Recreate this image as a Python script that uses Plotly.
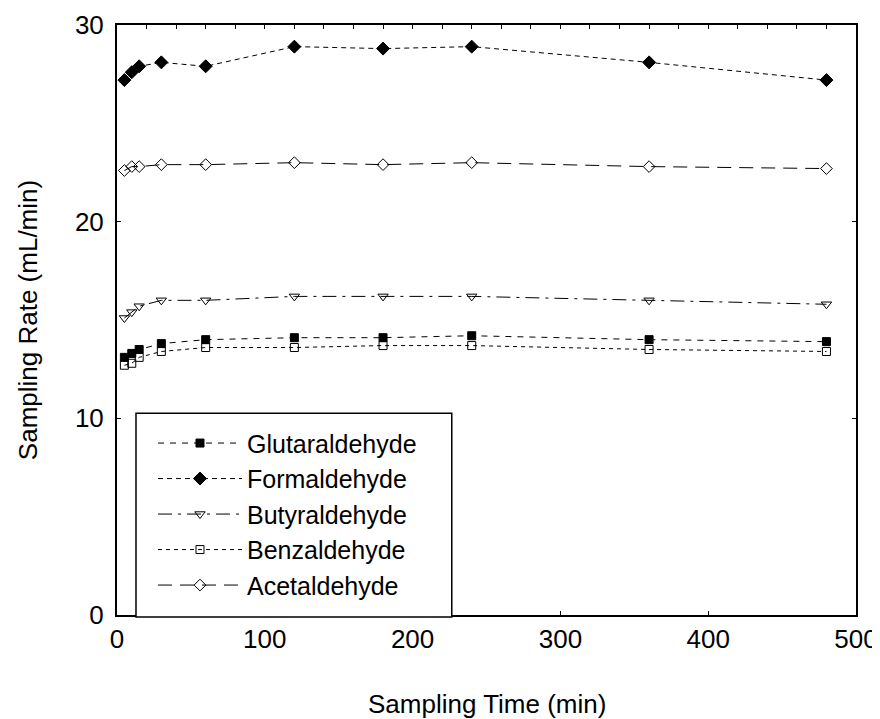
import plotly.graph_objects as go

time_min = [5, 10, 15, 30, 60, 120, 180, 240, 360, 480]
glutaraldehyde = [13.1, 13.3, 13.5, 13.8, 14.0, 14.1, 14.1, 14.2, 14.0, 13.9]
formaldehyde = [27.2, 27.6, 27.9, 28.1, 27.9, 28.9, 28.8, 28.9, 28.1, 27.2]
butyraldehyde = [15.1, 15.4, 15.7, 16.0, 16.0, 16.2, 16.2, 16.2, 16.0, 15.8]
benzaldehyde = [12.7, 12.8, 13.1, 13.4, 13.6, 13.6, 13.7, 13.7, 13.5, 13.4]
acetaldehyde = [22.6, 22.8, 22.8, 22.9, 22.9, 23.0, 22.9, 23.0, 22.8, 22.7]

FONT = "Arial, Liberation Sans, sans-serif"

series = [
    ("Glutaraldehyde", glutaraldehyde, "square", 8, "6px,6px"),
    ("Formaldehyde", formaldehyde, "diamond", 10, "5px,4px"),
    ("Butyraldehyde", butyraldehyde, "triangle-down-open", 9, "14px,6px,3px,6px"),
    ("Benzaldehyde", benzaldehyde, "square-open", 8, "4px,4px"),
    ("Acetaldehyde", acetaldehyde, "diamond-open", 9, "14px,8px"),
]

fig = go.Figure()
for name, vals, sym, size, dash in series:
    fig.add_trace(go.Scatter(
        x=time_min, y=vals, name=name, mode="lines+markers",
        line=dict(color="black", width=1, dash=dash),
        marker=dict(symbol=sym, size=size, color="black",
                    line=dict(color="black", width=1)),
    ))

# empty trace so that the top tick axis is drawn
fig.add_trace(go.Scatter(x=[None], y=[None], xaxis="x2", yaxis="y",
                         showlegend=False, hoverinfo="skip"))

# legend frame (drawn as a shape so it can be wider than plotly's own legend box)
fig.add_shape(type="rect", xref="paper", yref="paper",
              x0=0.0257, x1=0.453, y0=-0.0034, y1=0.342,
              line=dict(color="black", width=1.5), fillcolor="white", layer="above")

# x-axis title
fig.add_annotation(text="Sampling Time (min)", xref="paper", yref="paper",
                   x=0.5, y=0, xanchor="center", yanchor="top", yshift=-72,
                   showarrow=False, font=dict(family=FONT, size=26, color="black"))

fig.update_layout(
    width=872, height=711,
    margin=dict(l=109, r=24, t=17, b=104),
    paper_bgcolor="white", plot_bgcolor="white",
    font=dict(family=FONT, size=26, color="black"),
    showlegend=True,
    legend=dict(
        x=0.0487, y=0.33, xanchor="left", yanchor="top",
        borderwidth=0, bgcolor="rgba(0,0,0,0)",
        font=dict(family=FONT, size=25, color="black"),
        itemwidth=84, tracegroupgap=0,
    ),
    xaxis=dict(
        range=[0, 500], tickvals=[0, 100, 200, 300, 400, 500],
        ticks="inside", ticklen=4, tickcolor="black",
        showline=True, linecolor="black", linewidth=2, mirror=True,
        showgrid=False, zeroline=False, automargin=False,
        ticklabeloverflow="allow",
        tickfont=dict(family=FONT, size=26),
    ),
    xaxis2=dict(
        range=[0, 500], overlaying="x", side="top", anchor="y",
        tickvals=list(range(20, 500, 20)), ticks="inside", ticklen=4,
        tickcolor="black", showticklabels=False, showgrid=False, zeroline=False,
        showline=False,
    ),
    yaxis=dict(
        range=[0, 30], tickvals=[0, 10, 20, 30],
        ticks="inside", ticklen=4, tickcolor="black",
        showline=True, linecolor="black", linewidth=2, mirror="ticks",
        showgrid=False, zeroline=False, automargin=False,
        ticklabelstandoff=6,
        tickfont=dict(family=FONT, size=26),
        title=dict(text="Sampling Rate (mL/min)", font=dict(family=FONT, size=26), standoff=30),
    ),
)

fig.write_html("out.html")
